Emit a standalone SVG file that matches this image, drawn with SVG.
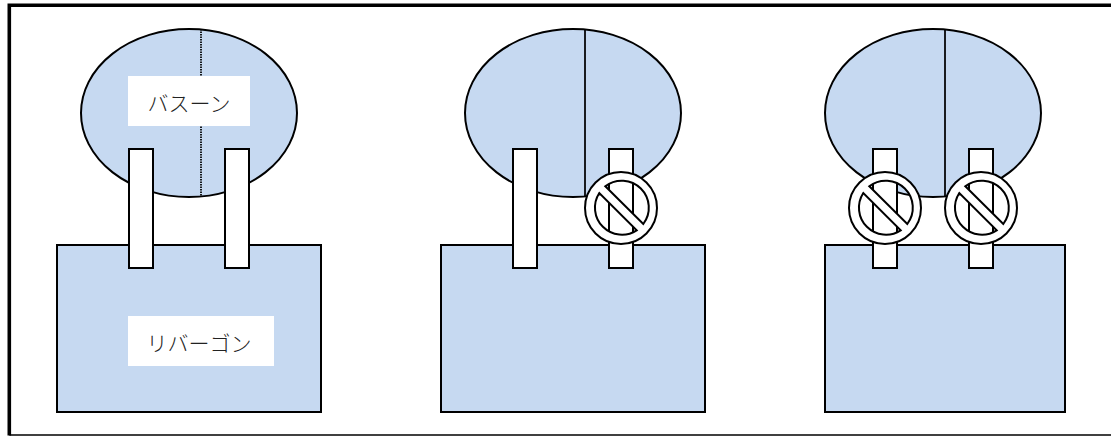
<svg xmlns="http://www.w3.org/2000/svg" width="1111" height="436" viewBox="0 0 1111 436">
<style>
.s{fill:#c6d9f1;stroke:#000;stroke-width:2}
.t{fill:#fff;stroke:#000;stroke-width:2}
.d{stroke:#000;stroke-width:1.75;fill:none}
.l{fill:#fff;stroke:none}
.x{font-family:"Noto Sans CJK JP",sans-serif;font-weight:300;font-size:21px;fill:#222;text-anchor:middle}
.n{fill:#fff;fill-rule:evenodd;stroke:#000;stroke-width:2}
</style>
<defs>
<path id="no" d="M-36 0A36 36 0 1 1 36 0A36 36 0 1 1 -36 0ZM-15.7 -21.7L22.3 16A27 27 0 0 0 -15.7 -21.7ZM-21.7 -15A27 27 0 0 0 15.7 22.3Z"/>
</defs>
<rect width="1111" height="436" fill="#fff"/>
<g id="frame">
<path d="M1111 435H9.3" fill="none" stroke="#000" stroke-width="1.5"/>
<path d="M1111 5.2H9.3V435.5" fill="none" stroke="#000" stroke-width="3.6"/>
</g>
<g id="panel-1">
<ellipse class="s" cx="189" cy="113" rx="108" ry="84"/>
<rect class="s" x="57" y="245" width="264" height="167"/>
<g id="connectors-1">
<path class="d" d="M201 29V197" stroke-dasharray="1.5 1"/>
</g>
<rect class="t" x="129" y="149" width="24" height="119"/>
<rect class="t" x="225" y="149" width="24" height="119"/>
<g id="label-bassoon">
<rect class="l" x="128" y="76" width="122" height="50"/>
<text class="x" x="189" y="111">バスーン</text>
</g>
<g id="label-reverse">
<rect class="l" x="128" y="316" width="146" height="50"/>
<text class="x" x="199" y="351">リバーゴン</text>
</g>
</g>
<g id="panel-2">
<ellipse class="s" cx="573" cy="113" rx="108" ry="84"/>
<rect class="s" x="441" y="245" width="264" height="167"/>
<path class="d" d="M585 29V197"/>
<rect class="t" x="513" y="149" width="24" height="119"/>
<rect class="t" x="609" y="149" width="24" height="119"/>
<use class="n" href="#no" x="621" y="208"/>
</g>
<g id="panel-3">
<ellipse class="s" cx="933" cy="113" rx="108" ry="84"/>
<rect class="s" x="825" y="245" width="240" height="167"/>
<path class="d" d="M945 29V197"/>
<rect class="t" x="873" y="149" width="24" height="119"/>
<rect class="t" x="969" y="149" width="24" height="119"/>
<use class="n" href="#no" x="885" y="208"/>
<use class="n" href="#no" x="981" y="208"/>
</g>
</svg>
